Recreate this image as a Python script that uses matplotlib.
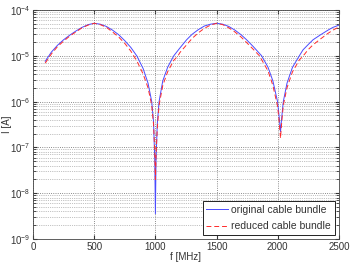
import numpy as np
import matplotlib.pyplot as plt
from matplotlib.ticker import LogLocator, NullFormatter

plt.rcParams['font.family'] = ['Liberation Sans', 'DejaVu Sans']
plt.rcParams['mathtext.fontset'] = 'custom'
plt.rcParams['mathtext.rm'] = 'Liberation Sans'
plt.rcParams['mathtext.it'] = 'Liberation Sans:italic'
plt.rcParams['mathtext.bf'] = 'Liberation Sans:bold'

# frequency points [MHz]
f_orig = [100, 150, 200, 250, 300, 350, 400, 450, 500, 550, 600, 650, 700, 750,
          800, 850, 900, 940, 970, 985, 995, 1000, 1005, 1015, 1030, 1060, 1100,
          1150, 1200, 1255, 1300, 1350, 1400, 1450, 1500, 1550, 1600, 1650, 1700,
          1745, 1800, 1868, 1920, 1960, 1998, 2010, 2022, 2032, 2045, 2075, 2120,
          2176, 2206, 2250, 2288, 2350, 2410, 2450, 2500]
# log10 of current [A], original cable bundle
logI_orig = [-5.12, -4.92, -4.77, -4.65, -4.55, -4.46, -4.38, -4.32, -4.29, -4.31,
             -4.36, -4.44, -4.54, -4.67, -4.82, -5.01, -5.28, -5.60, -6.00, -6.45,
             -7.30, -8.45, -7.30, -6.50, -6.00, -5.55, -5.25, -5.00, -4.83, -4.65,
             -4.53, -4.43, -4.35, -4.31, -4.29, -4.31, -4.36, -4.44, -4.54, -4.65,
             -4.80, -5.00, -5.25, -5.55, -6.00, -6.30, -6.66, -6.35, -6.00, -5.60,
             -5.25, -5.00, -4.87, -4.75, -4.65, -4.54, -4.44, -4.38, -4.33]

f_red = [100, 150, 200, 250, 300, 350, 400, 450, 500, 550, 600, 650, 700, 750,
         800, 850, 900, 940, 970, 985, 995, 1000, 1005, 1015, 1030, 1060, 1100,
         1150, 1185, 1200, 1255, 1300, 1350, 1400, 1450, 1500, 1550, 1600, 1650,
         1700, 1745, 1800, 1850, 1920, 1960, 1998, 2010, 2022, 2032, 2045, 2075,
         2120, 2176, 2208, 2250, 2288, 2350, 2410, 2450, 2500]
# log10 of current [A], reduced cable bundle
logI_red = [-5.16, -4.96, -4.80, -4.68, -4.57, -4.48, -4.39, -4.33, -4.29, -4.32,
            -4.38, -4.48, -4.59, -4.73, -4.90, -5.12, -5.40, -5.70, -6.08, -6.50,
            -7.10, -7.70, -7.20, -6.60, -6.08, -5.65, -5.35, -5.10, -5.00, -4.93,
            -4.76, -4.62, -4.50, -4.40, -4.33, -4.29, -4.32, -4.39, -4.48, -4.59,
            -4.71, -4.86, -5.00, -5.33, -5.65, -6.10, -6.40, -6.80, -6.45, -6.08,
            -5.70, -5.35, -5.09, -5.00, -4.86, -4.76, -4.63, -4.51, -4.44, -4.37]

fig = plt.figure(figsize=(3.52, 2.66), dpi=100)
ax = fig.add_axes([33 / 352, 1 - 239 / 266, 306 / 352, 229 / 266])

ax.semilogy(f_orig, 10.0 ** np.array(logI_orig), color='#4a4aff', lw=0.7,
            label='original cable bundle')
ax.semilogy(f_red, 10.0 ** np.array(logI_red), color='#ff2a2a', lw=0.7,
            ls=(0, (5, 3)), label='reduced cable bundle')

ax.set_xlim(0, 2500)
ax.set_ylim(1e-9, 1e-4)
ax.set_xticks([0, 500, 1000, 1500, 2000, 2500])
ax.yaxis.set_major_locator(LogLocator(base=10, numticks=10))
ax.yaxis.set_minor_locator(LogLocator(base=10, subs=np.arange(2, 10), numticks=20))
ax.yaxis.set_minor_formatter(NullFormatter())

# matlab-ish dotted grid
ax.grid(True, which='major', axis='both', ls=':', lw=0.6, color='#666666')
ax.grid(True, which='minor', axis='y', ls=':', lw=0.5, color='#888888')

ax.tick_params(which='both', direction='in', top=True, right=True,
               labelsize=7, colors='#333333', length=3, pad=2)
ax.tick_params(which='minor', length=2)
for s in ax.spines.values():
    s.set_color('#444444')
    s.set_linewidth(0.6)

ax.set_xlabel('f [MHz]', fontsize=7, color='#333333', labelpad=0)
ax.set_ylabel('I [A]', fontsize=7, color='#333333')
ax.yaxis.set_label_coords(-0.068, 0.5)

leg = ax.legend(loc='lower right', fontsize=7.5, fancybox=False, framealpha=1,
                edgecolor='#222222', borderaxespad=0.4, handlelength=2.1,
                handletextpad=0.3, labelspacing=0.6, borderpad=0.35)
leg.get_frame().set_linewidth(0.7)
for t in leg.get_texts():
    t.set_color('#333333')

fig.savefig('out.png', dpi=100)
